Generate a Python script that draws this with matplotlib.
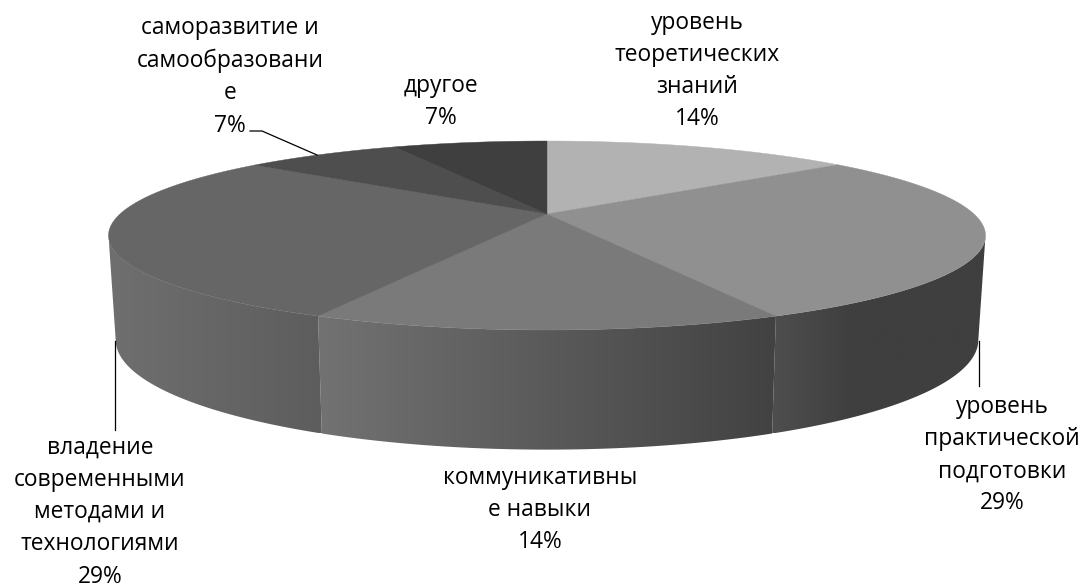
from matplotlib import pyplot as plt
from matplotlib.patches import Polygon
from matplotlib.colors import LinearSegmentedColormap
import numpy as np

plt.rcParams['font.family'] = ['Open Sans', 'DejaVu Sans']

labels = ['уровень\nтеоретических\nзнаний', 'уровень\nпрактической\nподготовки',
          'коммуникативны\nе навыки', 'владение\nсовременными\nметодами и\nтехнологиями',
          'саморазвитие и\nсамообразовани\nе', 'другое']
values = [14.2, 28.8, 14.0, 28.7, 7.2, 7.1]
top_colors = ['#b2b2b2', '#909090', '#7a7a7a', '#666666', '#4e4e4e', '#3f3f3f']
side_left = ['#b2b2b2', '#4e4e4e', '#727272', '#6f6f6f', '#4e4e4e', '#3f3f3f']
side_right = ['#b2b2b2', '#3f3f3f', '#424242', '#5d5d5d', '#4e4e4e', '#3f3f3f']
label_xy = [(697.5, 71), (1002, 455), (540, 510), (100, 512), (230, 77), (441, 102)]

# perspective of the disc: k is the tilt, rest is in pixels
k = 0.2275
cx = 547
turn_angle = np.degrees(np.arccos(-k))  # where the rim is widest


def rim(deg, r, c, a):
    t = np.radians(deg)
    d = 1 + k * np.cos(t)
    return cx + r * np.sin(t) / d, c - a * np.cos(t) / d


def top_rim(deg):
    return rim(deg, 427, 214, 89.6)


def low_rim(deg):
    return rim(deg, 420, 315, 104)


fig = plt.figure(figsize=(10.84, 5.87), dpi=100)
ax = fig.add_axes([0, 0, 1, 1])

total = sum(values)
edges = np.cumsum([0] + values) * 360 / total

# side walls, only the front of the rim shows
for i in range(len(values)):
    a0 = max(edges[i], turn_angle)
    a1 = min(edges[i + 1], 360 - turn_angle)
    if a0 >= a1:
        continue
    deg = np.linspace(a0, a1, 80)
    xt, yt = top_rim(deg)
    xb, yb = low_rim(deg)
    pts = np.r_[np.c_[xt, yt], np.c_[xb, yb][::-1]]
    poly = Polygon(pts, closed=True, fc='none', ec='none')
    ax.add_patch(poly)
    xmin, xmax = pts[:, 0].min(), pts[:, 0].max()
    cmap = LinearSegmentedColormap.from_list('s', [side_left[i], side_right[i]])
    if i == 1:
        # this wall goes flat quite soon
        cmap = LinearSegmentedColormap.from_list(
            's', [(0, side_left[i]), (0.38, side_right[i]), (1, side_right[i])])
    grad = np.linspace(0, 1, 256).reshape(1, -1)
    im = ax.imshow(grad, cmap=cmap, extent=[xmin, xmax, pts[:, 1].max(), pts[:, 1].min()],
                   aspect='auto', zorder=2)
    im.set_clip_path(poly)

# top face
for i in range(len(values)):
    deg = np.linspace(edges[i], edges[i + 1], 150)
    x, y = top_rim(deg)
    pts = np.r_[[[cx, 214]], np.c_[x, y]]
    ax.add_patch(Polygon(pts, closed=True, fc=top_colors[i], ec=top_colors[i], lw=0.3, zorder=3))

# labels
for i in range(len(values)):
    txt = labels[i] + '\n' + str(round(100 * values[i] / total)) + '%'
    ax.text(label_xy[i][0], label_xy[i][1], txt, ha='center', va='center', fontsize=16.4,
            linespacing=1.46, color='#000000', zorder=5)

# leader lines
ax.plot([250, 262, 317], [131, 131, 155], color='black', lw=0.9, zorder=4)
ax.plot([979, 979], [341, 386], color='black', lw=0.9, zorder=4)
ax.plot([115, 115], [341, 430], color='black', lw=0.9, zorder=4)

ax.set_xlim(0, 1084)
ax.set_ylim(587, 0)
ax.axis('off')
fig.savefig('out.png', dpi=100, facecolor='white')
